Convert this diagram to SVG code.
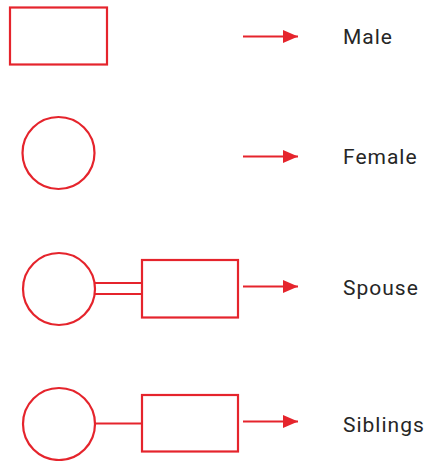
<svg xmlns="http://www.w3.org/2000/svg" width="432" height="461" viewBox="0 0 432 461">
<style>
.s{fill:none;stroke:#e5242c;stroke-width:2.2}
.t{font-family:Roboto,"Liberation Sans",sans-serif;font-size:21px;letter-spacing:1px;fill:#262626}
</style>
<defs>
<marker id="ah" markerUnits="userSpaceOnUse" markerWidth="16" markerHeight="14" refX="15" refY="7" orient="auto">
<path d="M0,0.5 L15,7 L0,13.5 Z" fill="#e5242c"/>
</marker>
</defs>
<rect width="432" height="461" fill="#fff"/>
<g id="male"><rect class="s" x="10" y="7.5" width="97" height="57"/></g>
<g id="female"><circle class="s" cx="58.5" cy="153" r="36"/></g>
<g id="spouse-f"><circle class="s" cx="59" cy="289" r="36"/></g>
<g id="spouse-m"><rect class="s" x="142" y="260" width="96" height="57.5"/></g>
<g id="sib-f"><circle class="s" cx="59" cy="424" r="36"/></g>
<g id="sib-m"><rect class="s" x="142" y="395" width="96" height="56.5"/></g>
<g id="connectors">
<line class="s" x1="95" y1="283" x2="142" y2="283"/>
<line class="s" x1="95" y1="294" x2="142" y2="294"/>
<line class="s" x1="95" y1="423.5" x2="142" y2="423.5"/>
<line class="s" x1="243" y1="36.5" x2="298" y2="36.5" marker-end="url(#ah)"/>
<line class="s" x1="243" y1="156.5" x2="298" y2="156.5" marker-end="url(#ah)"/>
<line class="s" x1="243" y1="286.5" x2="298" y2="286.5" marker-end="url(#ah)"/>
<line class="s" x1="243" y1="421.5" x2="298" y2="421.5" marker-end="url(#ah)"/>
</g>
<g id="labels">
<text class="t" x="343" y="44">Male</text>
<text class="t" x="343" y="164">Female</text>
<text class="t" x="343" y="295">Spouse</text>
<text class="t" x="343" y="431.5">Siblings</text>
</g>
</svg>
